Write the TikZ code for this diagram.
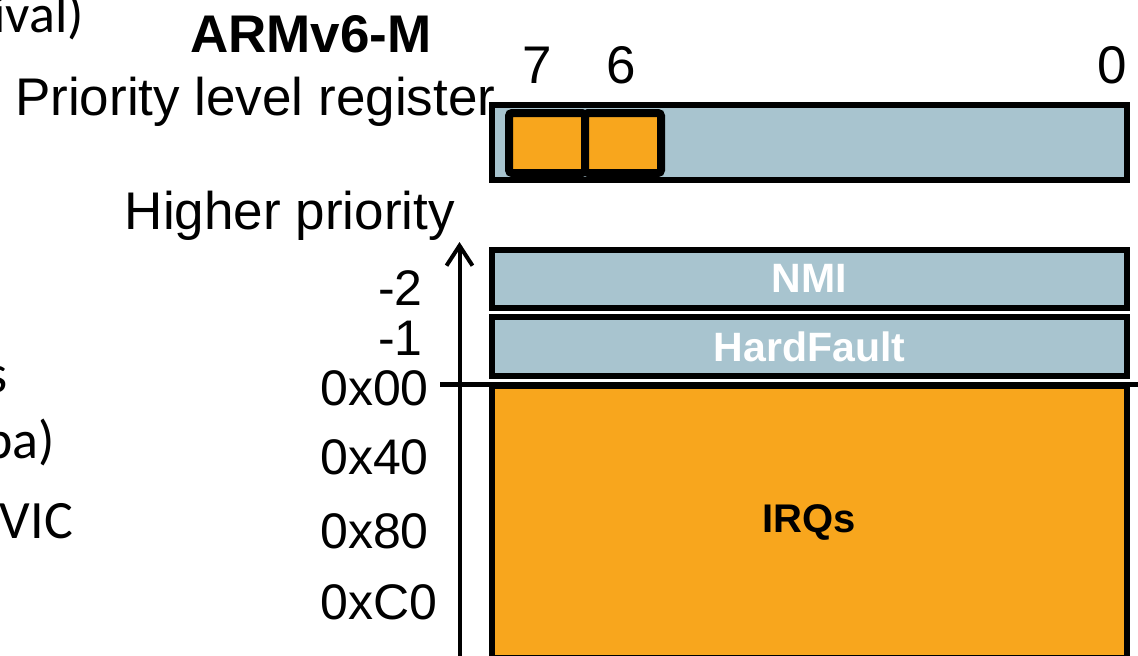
\documentclass[tikz,border=0pt]{standalone}
\usepackage{fontspec}
\setmainfont{Liberation Sans}
\newfontfamily\calib{Carlito}
\usetikzlibrary{arrows.meta}
\definecolor{regblue}{RGB}{168,196,207}
\definecolor{irqorange}{RGB}{248,166,29}
\begin{document}
\begin{tikzpicture}[x=1pt,y=-1pt,
  lbl/.style={inner sep=0pt, font=\fontsize{53}{60}\selectfont},
  axl/.style={inner sep=0pt, font=\fontsize{50}{58}\selectfont},
  frag/.style={inner sep=0pt, font=\calib\fontsize{54}{62}\selectfont},
  bluebox/.style={draw=black, fill=regblue, line width=6pt, inner sep=0pt, minimum width=635pt},
  bitbox/.style={draw=black, fill=irqorange, line width=8pt, inner sep=0pt, rounded corners=3pt, minimum width=76pt, minimum height=60pt},
  boxtxt/.style={text=white, font=\bfseries\fontsize{41}{48}\selectfont},
  irqbox/.style={draw=black, fill=irqorange, line width=6pt, inner sep=0pt, minimum width=635pt, font=\bfseries\fontsize{40}{48}\selectfont},
  axis/.style={line width=4pt, -{Straight Barb[length=20pt,width=26pt]}},
  zeroline/.style={line width=5pt}]
\useasboundingbox (0,0) rectangle (1138,656);
\clip (0,0) rectangle (1138,656);
% cut-off slide text on the left
\node[frag, anchor=base east] (f1) at (84,32) {ival)};
\node[frag, anchor=base east] (f2) at (8,392) {s};
\node[frag, anchor=base east] (f3) at (55,458) {ba)};
\node[frag, anchor=base east] (f4) at (73,538) {NVIC};
% titles
\node[lbl, anchor=base, font=\bfseries\fontsize{53}{60}\selectfont] (title) at (311,52) {ARMv6-M};
\node[lbl, anchor=base west] (plr) at (15,115) {Priority level register};
\node[lbl, anchor=base] (b7l) at (537,83) {7};
\node[lbl, anchor=base] (b6l) at (621,83) {6};
\node[lbl, anchor=base] (b0l) at (1112,83) {0};
\node[lbl, anchor=base east] (hp) at (455,229) {Higher priority};
% axis labels
\node[axl, anchor=base east] (m2) at (423,305) {-2};
\node[axl, anchor=base east] (m1) at (423,355) {-1};
\node[axl, anchor=base west] (h00) at (320,405) {0x00};
\node[axl, anchor=base west] (h40) at (320,474) {0x40};
\node[axl, anchor=base west] (h80) at (320,548) {0x80};
\node[axl, anchor=base west] (hC0) at (320,619) {0xC0};
% register
\node[bluebox, minimum height=75.5pt] (reg) at (809.5,142.25) {};
\node[bitbox] (bit7) at (547,143) {};
\node[bitbox] (bit6) at (623,143) {};
% priority boxes
\node[bluebox, minimum height=57.5pt, boxtxt] (nmi) at (809.5,278.75) {NMI};
\node[bluebox, minimum height=59pt, boxtxt] (hf) at (809.5,346.5) {HardFault};
\node[irqbox, minimum height=272pt] (irq) at (809.5,522) {IRQs};
% zero line and axis
\coordinate (zl) at (440,384.5);
\coordinate (zr) at (1145,384.5);
\draw[zeroline] (zl) -- (zr);
\coordinate (abot) at (459.5,670);
\coordinate (atop) at (459.5,242);
\draw[axis] (abot) -- (atop);
\end{tikzpicture}
\end{document}
